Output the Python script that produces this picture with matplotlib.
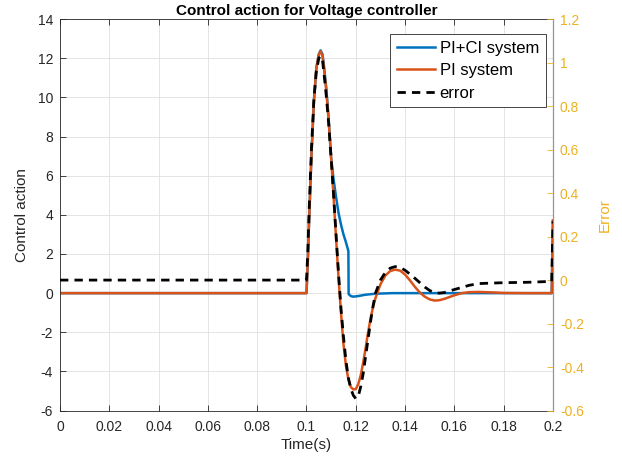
import matplotlib
matplotlib.use("Agg")
import matplotlib.pyplot as plt

plt.rcParams['font.family'] = ['Liberation Sans', 'DejaVu Sans']
plt.rcParams['axes.unicode_minus'] = False

# PI system (left axis)
t_pi = [0, 0.1, 0.1005, 0.101, 0.102, 0.103, 0.104, 0.105, 0.1057, 0.1065, 0.107,
        0.108, 0.109, 0.110, 0.111, 0.112, 0.113, 0.114, 0.115, 0.116, 0.117,
        0.118, 0.119, 0.120, 0.121, 0.122, 0.123, 0.124, 0.125, 0.126, 0.127,
        0.128, 0.130, 0.132, 0.134, 0.136, 0.138, 0.140, 0.142, 0.144, 0.146,
        0.148, 0.150, 0.152, 0.154, 0.156, 0.158, 0.160, 0.163, 0.166, 0.170,
        0.175, 0.180, 0.190, 0.1995, 0.2]
v_pi = [0, 0, 1.5, 3.5, 7.0, 9.8, 11.5, 12.2, 12.35, 12.1, 11.6,
        10.4, 8.8, 6.9, 4.9, 2.8, 0.8, -1.0, -2.6, -3.7, -4.4,
        -4.8, -4.92, -4.9, -4.65, -4.2, -3.55, -2.8, -2.0, -1.3, -0.7,
        -0.25, 0.45, 0.9, 1.13, 1.2, 1.15, 0.95, 0.65, 0.32, 0.03,
        -0.18, -0.32, -0.38, -0.36, -0.29, -0.2, -0.11, 0.0, 0.05, 0.06,
        0.04, 0.01, 0.0, 0.0, 3.7]

# PI+CI system (left axis)
t_ci = [0, 0.1, 0.1005, 0.101, 0.102, 0.103, 0.104, 0.105, 0.1057, 0.1065, 0.107,
        0.108, 0.109, 0.110, 0.111, 0.112, 0.113, 0.114, 0.115, 0.116, 0.117,
        0.1171, 0.118, 0.119, 0.121, 0.124, 0.128, 0.135, 0.150, 0.1995, 0.2]
v_ci = [0, 0, 1.5, 3.5, 7.0, 9.8, 11.5, 12.2, 12.4, 12.2, 11.7,
        10.5, 8.9, 6.9, 5.8, 4.9, 4.1, 3.5, 3.0, 2.6, 2.15,
        -0.05, -0.15, -0.18, -0.15, -0.08, -0.03, 0.0, 0.0, 0.0, 3.7]

# error (right axis)
t_err = [0, 0.1, 0.1005, 0.101, 0.102, 0.103, 0.104, 0.105, 0.1057, 0.1065, 0.107,
         0.108, 0.109, 0.110, 0.111, 0.112, 0.113, 0.114, 0.115, 0.116, 0.117,
         0.118, 0.119, 0.120, 0.121, 0.122, 0.123, 0.124, 0.125, 0.126, 0.127,
         0.128, 0.130, 0.132, 0.134, 0.136, 0.138, 0.140, 0.142, 0.144, 0.146,
         0.148, 0.150, 0.152, 0.154, 0.156, 0.158, 0.162, 0.166, 0.170, 0.175,
         0.180, 0.190, 0.1995, 0.2]
v_err = [0, 0, 0.12, 0.3, 0.6, 0.83, 0.96, 1.02, 1.03, 1.01, 0.96,
         0.85, 0.72, 0.56, 0.39, 0.21, 0.03, -0.13, -0.26, -0.37, -0.45,
         -0.5, -0.53, -0.545, -0.535, -0.49, -0.43, -0.35, -0.27, -0.19, -0.12,
         -0.06, 0.0, 0.035, 0.055, 0.062, 0.058, 0.045, 0.027, 0.008, -0.012,
         -0.032, -0.048, -0.058, -0.06, -0.057, -0.05, -0.037, -0.024, -0.016, -0.014,
         -0.012, -0.01, -0.006, 0.27]

xticks = [0, 0.02, 0.04, 0.06, 0.08, 0.1, 0.12, 0.14, 0.16, 0.18, 0.2]
xlabels = ['0', '0.02', '0.04', '0.06', '0.08', '0.1', '0.12', '0.14', '0.16', '0.18', '0.2']
yticks = list(range(-6, 15, 2))
y2ticks = [-0.6, -0.4, -0.2, 0, 0.2, 0.4, 0.6, 0.8, 1.0, 1.2]
y2labels = ['-0.6', '-0.4', '-0.2', '0', '0.2', '0.4', '0.6', '0.8', '1', '1.2']

BLUE = '#0072BD'
ORANGE = '#D95319'
YELLOW = '#EDB120'
DARK = '#262626'

fig = plt.figure(figsize=(6.22, 4.65), dpi=100)
ax = fig.add_axes([0.0965, 0.117, 0.7925, 0.842])

l1, = ax.plot(t_ci, v_ci, color=BLUE, lw=1.8, label='PI+CI system')
l2, = ax.plot(t_pi, v_pi, color=ORANGE, lw=1.8, label='PI system')
ax.set_xlim(0, 0.2)
ax.set_ylim(-6, 14)
ax.set_xticks(xticks)
ax.set_xticklabels(xlabels)
ax.set_yticks(yticks)
ax.grid(True, color='#DFDFDF', lw=0.6)
ax.set_axisbelow(True)
ax.tick_params(direction='in', length=4, labelsize=10, colors=DARK, width=0.6)
ax.tick_params(axis='x', pad=7, top=True)
ax.tick_params(axis='y', pad=5)
ax.set_xlabel('Time(s)', fontsize=11, color=DARK, labelpad=3)
ax.set_ylabel('Control action', fontsize=11, color=DARK, labelpad=6)
ax.set_title('Control action for Voltage controller', fontsize=11, fontweight='bold', pad=3)
for s in ['left', 'bottom', 'top']:
    ax.spines[s].set_color(DARK)
    ax.spines[s].set_linewidth(0.6)

ax2 = ax.twinx()
l3, = ax2.plot(t_err, v_err, color='k', lw=2, ls='--', dashes=(3, 2.2), label='error')
ax2.set_ylim(-0.6, 1.2)
ax2.set_yticks(y2ticks)
ax2.set_yticklabels(y2labels)
ax2.tick_params(direction='in', length=4, labelsize=10, colors=YELLOW, width=0.6, pad=5)
ax2.set_ylabel('Error', fontsize=11, color=YELLOW, labelpad=10)
ax2.spines['right'].set_color(YELLOW)
ax2.spines['right'].set_linewidth(0.6)
ax2.spines['left'].set_visible(False)
ax2.spines['top'].set_visible(False)
ax2.spines['bottom'].set_visible(False)

leg = ax2.legend(handles=[l1, l2, l3], loc='upper right', fontsize=12,
                 fancybox=False, framealpha=1, edgecolor=DARK,
                 borderpad=0.4, labelspacing=0.45, handlelength=2.3, handletextpad=0.25,
                 borderaxespad=0.0, bbox_to_anchor=(0.985, 0.962))
leg.get_frame().set_linewidth(0.6)

fig.savefig('out.png', dpi=100)
